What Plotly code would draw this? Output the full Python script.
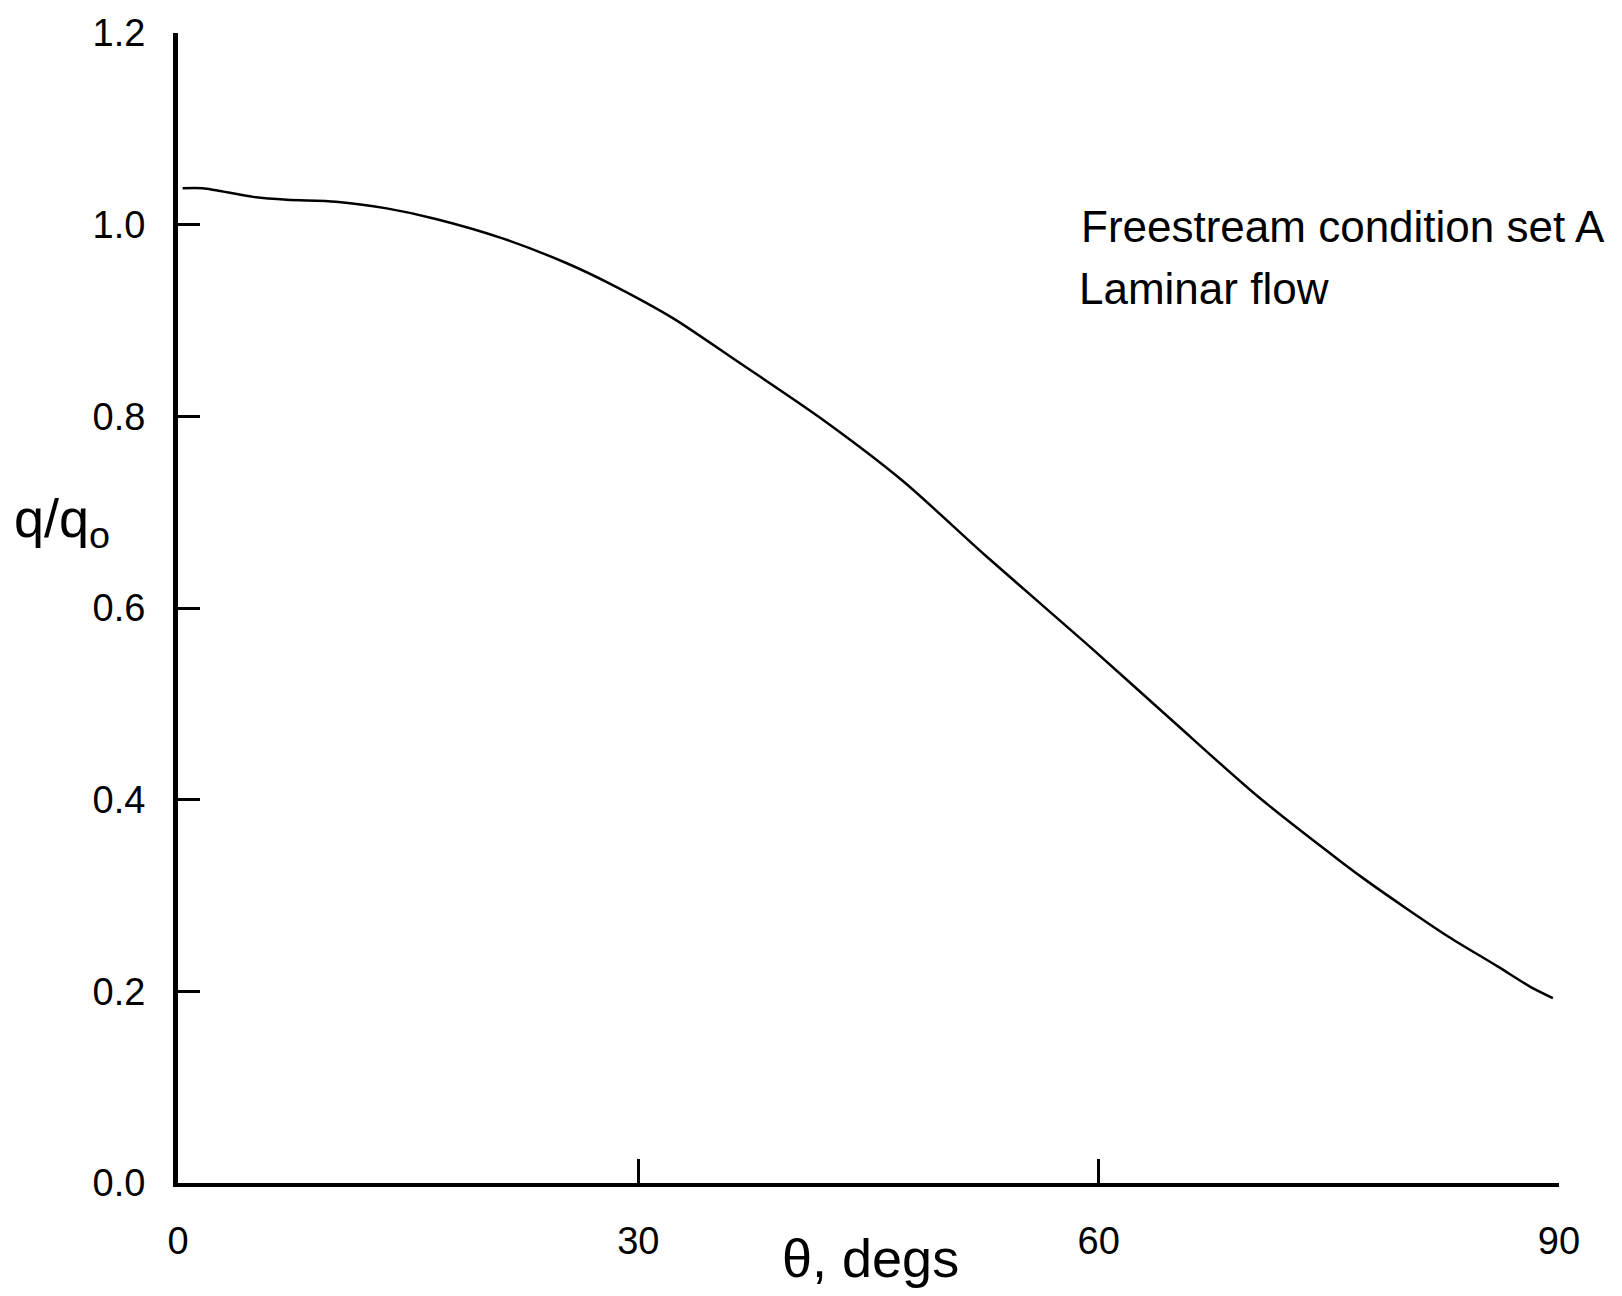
import plotly.graph_objects as go

# Data (theta in degrees, q/q0)
theta = [0.3, 1.6, 4.9, 7.1, 10.3, 13.6, 16.8, 21.1, 25.3, 28.2, 32.3, 36.3,
         41.8, 47.2, 52.6, 59.4, 64.9, 70.4, 75.9, 77.5, 80.1, 82.8, 86.0,
         88.1, 89.6]
q_ratio = [1.038, 1.038, 1.029, 1.026, 1.024, 1.017, 1.006, 0.986, 0.960,
           0.938, 0.902, 0.859, 0.799, 0.733, 0.655, 0.560, 0.481, 0.403,
           0.334, 0.315, 0.286, 0.257, 0.226, 0.205, 0.193]

x_ticks = [0, 30, 60, 90]
x_tick_labels = ["0", "30", "60", "90"]
y_ticks = [0.0, 0.2, 0.4, 0.6, 0.8, 1.0, 1.2]
y_tick_labels = ["0.0", "0.2", "0.4", "0.6", "0.8", "1.0", "1.2"]

note_lines = ["Freestream condition set A", "Laminar flow"]

FONT = "Liberation Sans, Arial, Helvetica, sans-serif"

fig = go.Figure()
fig.add_trace(go.Scatter(
    x=theta, y=q_ratio, mode="lines",
    line=dict(color="black", width=2.5, shape="spline", smoothing=0.8),
    showlegend=False, hoverinfo="skip",
))

W, H = 1622, 1296
L, R, T, B = 178, 63, 30, 113

fig.update_layout(
    width=W, height=H,
    margin=dict(l=L, r=R, t=T, b=B, pad=0),
    paper_bgcolor="white", plot_bgcolor="white",
    font=dict(family=FONT, color="black", size=38),
    showlegend=False,
)

fig.update_xaxes(
    range=[0, 90], tickmode="array", tickvals=x_ticks, ticktext=x_tick_labels,
    ticks="inside", ticklen=24, tickwidth=3, tickcolor="black",
    showline=True, linecolor="black", linewidth=3.5,
    showgrid=False, zeroline=False,
    tickfont=dict(size=38, family=FONT), ticklabelstandoff=22,
)
fig.update_yaxes(
    range=[0, 1.2], tickmode="array", tickvals=y_ticks, ticktext=y_tick_labels,
    ticks="inside", ticklen=22, tickwidth=2.5, tickcolor="black",
    showline=True, linecolor="black", linewidth=5,
    showgrid=False, zeroline=False,
    tickfont=dict(size=38, family=FONT), ticklabelstandoff=20,
)

plot_w = W - L - R
plot_h = H - T - B

def px_x(x):
    return (x - L) / plot_w

def px_y(y):
    return (H - B - y) / plot_h

annotations = [
    dict(text="θ, degs", x=px_x(870), y=px_y(1258), xref="paper", yref="paper",
         xanchor="center", yanchor="middle", showarrow=False,
         font=dict(size=54, family=FONT)),
    dict(text="q/q<sub>o</sub>", x=px_x(12), y=px_y(520), xref="paper", yref="paper",
         xanchor="left", yanchor="middle", showarrow=False,
         font=dict(size=54, family=FONT)),
    dict(text=note_lines[0], x=px_x(1079), y=px_y(224), xref="paper", yref="paper",
         xanchor="left", yanchor="middle", showarrow=False,
         font=dict(size=44, family=FONT)),
    dict(text=note_lines[1], x=px_x(1077), y=px_y(286), xref="paper", yref="paper",
         xanchor="left", yanchor="middle", showarrow=False,
         font=dict(size=44, family=FONT)),
]
fig.update_layout(annotations=annotations)

fig.write_html("out.html")
